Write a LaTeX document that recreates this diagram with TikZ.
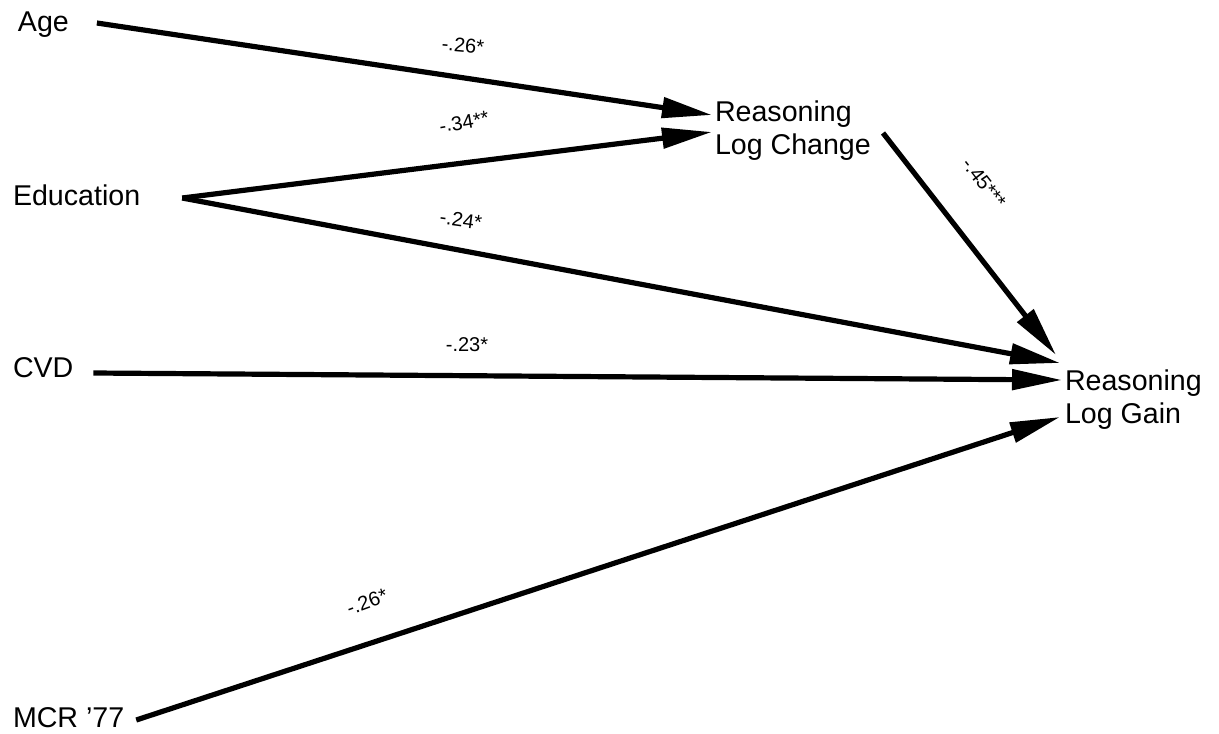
\documentclass[tikz,border=0pt]{standalone}
\usepackage{fontspec}
\setmainfont{Liberation Sans}
\usetikzlibrary{arrows.meta,calc}
\begin{document}
\begin{tikzpicture}[x=0.5pt,y=-0.5pt,
  var/.style={inner sep=0pt,outer sep=0pt,font=\fontsize{14.3}{16.5}\selectfont},
  outcome/.style={var,align=left,anchor=north west},
  path/.style={line width=2.6pt,-{Triangle[length=25pt,width=10pt]}},
  coef/.style={inner sep=0pt,font=\fontsize{10}{11}\selectfont}]
\useasboundingbox (0,0) rectangle (1219,733);
\node[var,anchor=base west] (age) at (18,32) {Age};
\node[var,anchor=base west] (edu) at (13,205) {Education};
\node[var,anchor=base west] (cvd) at (13,377) {CVD};
\node[var,anchor=base west] (mcr) at (13,727) {MCR '77};
\node[outcome] (rlc) at (715,101) {Reasoning\\Log Change};
\node[outcome] (rlg) at (1065,370) {Reasoning\\Log Gain};
\draw[path] ($(age.base east)+(28,-9)$) -- ($(rlc.north west)+(-3,14)$);
\draw[path] ($(edu.base east)+(42,-7)$) -- ($(rlc.north west)+(-3,31)$);
\draw[path] ($(edu.base east)+(42,-7)$) -- ($(rlg.north west)+(-5,-7)$);
\draw[path] ($(cvd.base east)+(20,-4)$) -- ($(rlg.north west)+(-3,10)$);
\draw[path] ($(mcr.base east)+(12,-7)$) -- ($(rlg.north west)+(-5,47)$);
\draw[path] ($(rlc.north west)+(168,32)$) -- ($(rlg.north west)+(-9,-15)$);
\node[coef,rotate=-5] (c1) at (463,45) {-.26*};
\node[coef,rotate=10] (c2) at (464,122) {-.34**};
\node[coef,rotate=-8] (c3) at (461,220) {-.24*};
\node[coef] (c4) at (467,345) {-.23*};
\node[coef,rotate=-52] (c5) at (984,183) {-.45***};
\node[coef,rotate=20] (c6) at (367,602) {-.26*};
\end{tikzpicture}
\end{document}
